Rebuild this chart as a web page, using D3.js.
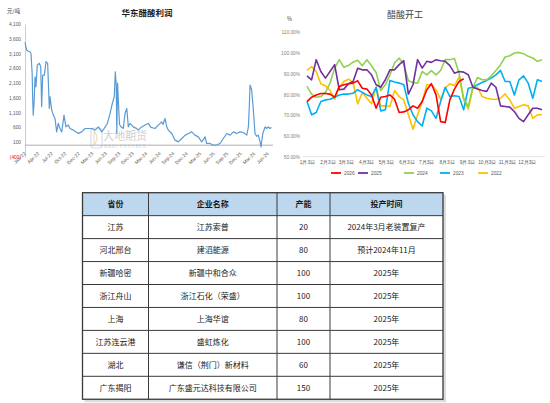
<!DOCTYPE html>
<html><head><meta charset="utf-8">
<script src="https://cdn.jsdelivr.net/npm/d3@7"></script>
<style>
body{margin:0;background:#fff;}
svg{display:block;font-family:"Noto Sans CJK SC","Noto Sans",sans-serif;}
</style>
</head><body>
<svg id="c" width="550" height="403"></svg>
<script>
// ---------- Left chart: 华东醋酸利润 (元/吨) ----------
const profitDates = ["2022-01-04","2022-01-15","2022-01-27","2022-02-06","2022-02-13","2022-02-21","2022-02-24","2022-02-28","2022-03-06","2022-03-12","2022-03-18","2022-03-27","2022-04-09","2022-04-19","2022-04-25","2022-05-02","2022-05-13","2022-05-24","2022-06-04","2022-06-15","2022-06-20","2022-07-01","2022-07-12","2022-07-23","2022-08-03","2022-08-14","2022-08-25","2022-09-06","2022-09-21","2022-10-04","2022-10-20","2022-10-31","2022-11-22","2022-12-10","2022-12-25","2023-01-17","2023-02-08","2023-03-02","2023-03-25","2023-04-16","2023-05-08","2023-05-30","2023-06-15","2023-07-07","2023-07-25","2023-08-09","2023-08-22","2023-08-29","2023-09-04","2023-09-08","2023-09-13","2023-09-19","2023-09-26","2023-10-06","2023-10-21","2023-11-02","2023-11-13","2023-11-24","2023-12-05","2023-12-27","2024-01-19","2024-01-29","2024-02-16","2024-03-14","2024-04-05","2024-04-23","2024-05-20","2024-06-11","2024-07-03","2024-07-12","2024-07-25","2024-08-06","2024-08-16","2024-09-08","2024-09-30","2024-10-22","2024-11-14","2024-12-07","2024-12-29","2025-01-19","2025-02-10","2025-03-04","2025-03-27","2025-04-18","2025-04-29","2025-05-21","2025-06-12","2025-07-05","2025-07-27","2025-08-18","2025-09-10","2025-10-02","2025-10-24","2025-11-15","2025-12-07","2025-12-29","2026-01-21","2026-02-01","2026-02-07","2026-02-12","2026-02-23","2026-03-06","2026-03-17","2026-03-29","2026-04-08","2026-04-20","2026-04-26","2026-05-08","2026-05-23","2026-06-03","2026-06-14","2026-06-25","2026-07-05"];
const profitValues = [3480,3220,3180,3160,3100,2400,1600,1017,1500,2315,1975,2710,2770,2655,1300,2370,2370,2825,2770,1245,1640,1190,1017,905,450,735,565,450,1017,620,680,565,510,450,400,450,565,565,565,510,620,450,560,735,1075,1410,1640,2485,2050,400,2100,1400,700,620,565,1075,1245,620,735,620,560,510,600,680,735,600,565,680,790,700,905,620,510,395,170,112,225,340,395,450,340,281,112,281,56,60,0,10,56,225,395,340,450,395,450,430,340,620,1300,2035,1865,1190,395,300,340,112,-56,395,620,565,620,565,600];
const profitTickDates = ["2022-01-04","2022-04-04","2022-07-03","2022-10-01","2022-12-30","2023-03-30","2023-06-28","2023-09-26","2023-12-25","2024-03-24","2024-06-22","2024-09-20","2024-12-19","2025-03-19","2025-06-17","2025-09-15","2025-12-14","2026-03-14","2026-06-12"];
const profitTickLabels = ["Jan-22","Apr-22","Jul-22","Oct-22","Dec-22","Mar-23","Jun-23","Sep-23","Dec-23","Mar-24","Jun-24","Sep-24","Dec-24","Mar-25","Jun-25","Sep-25","Dec-25","Mar-26","Jun-26"];
const profitYTicks = [-400,100,600,1100,1600,2100,2600,3100,3600,4100];

// ---------- Right chart: 醋酸开工 (%) ----------
const years = ["2026","2025","2024","2023","2022"];
const yearColors = ["#ff0000","#7030a0","#92d050","#00b0f0","#ffc000"];
const rate2026 = [76.6,78.7,79.8,80.5,80.5,80.2,78.7,83.9,84.7,85.2,85.5,86.6,83,82.6,79.8,73.4,78.7,79,79.8,77.7,71.3,71.6,72.6,74.5,73.4,76.6,82.3,85.2,79.8,66.9,66.5,77.4,82.6,86.3,87.6];
const rate2025 = [89,87.1,96.8,91.1,87.9,91.1,94.4,82.3,82.6,85.2,86.3,92.7,91.9,91.9,89.5,84.7,83.5,87.1,91.9,91.9,94.4,96.3,80.2,84.7,96.8,92.7,96,95.5,96.8,96.3,96,93.9,90.3,91.1,90.8,89.5,83.5,82.6,81.9,81.5,85.5,83.5,74.5,74.2,73.9,71.8,68.5,66.9,70.2,73.4,73.4,72.6];
const rate2024 = [83.9,80.2,78.7,79,81,85.5,92.7,96.8,93.1,94,95.6,96.5,93.9,96.8,93.9,90.6,81.9,84.7,89.5,95.2,97.6,94.4,86.6,85.8,85.5,91.1,89.5,91.5,89.5,91.6,96.8,96.8,97.4,90.3,78.2,74.2,83.5,88.2,87.1,87.1,89,91.6,94.4,98.1,98.7,100,100.3,99.7,98.4,97.6,96,96.8];
const rate2023 = [76.6,70.2,71.3,76.6,77.4,77.7,78.7,79.8,80.2,80.2,80.6,82.3,81,79.8,79,83.5,72.1,72.6,86.8,86,85.5,84.7,75.8,70.2,66.9,64.8,73.4,72.1,68.5,76.6,83.5,79,79.4,79,72.6,83,83.5,84.7,85.8,86.8,87.9,89.5,91.6,86.3,86.3,79.8,87.1,89,85.5,78.2,87.1,86.3];
const rate2022 = [91.6,93.5,91.1,85.2,84.2,81.9,77.7,83.5,86.3,87.4,85.8,75.5,81,78.2,75.5,83.5,74.5,74.5,74.2,81.9,79,77.4,70.2,63.2,70.2,76.6,84.7,84.7,82.3,77.7,83,85.2,84.2,88.4,77.4,72.9,83,83.5,79,78.2,77.7,77.7,78.2,80.3,77.4,73.4,74.2,75,74.5,68.5,70.2,70.2];
const rateTickWeeks = [0,4.43,8.43,12.86,17.14,21.57,25.86,30.29,34.71,39,43.43,47.71];
const rateTickLabels = ["1月3日","2月3日","3月3日","4月3日","5月3日","6月3日","7月3日","8月3日","9月3日","10月3日","11月3日","12月3日"];
const rateYTicks = [50,60,70,80,90,100,110];

// ---------- Table ----------
const tableHeader = ["省份","企业名称","产能","投产时间"];
const provinces = ["江苏","河北邢台","新疆哈密","浙江舟山","上海","江苏连云港","湖北","广东揭阳"];
const companies = ["江苏索普","建滔能源","新疆中和合众","浙江石化（荣盛）","上海华谊","盛虹炼化","谦信（荆门）新材料","广东盛元达科技有限公司"];
const capacities = ["20","80","100","100","80","100","60","150"];
const startTimes = ["2024年3月老装置复产","预计2024年11月","2025年","2025年","2025年","2025年","2025年","2025年"];

const svg = d3.select("#c");
const parse = d3.timeParse("%Y-%m-%d");

// ===== Left chart =====
{
  const L = svg.append("g");
  const x = d3.scaleTime().domain([parse("2022-01-04"), parse("2026-07-15")]).range([25, 273]);
  const y = d3.scaleLinear().domain([-400, 4100]).range([157, 24]);

  L.append("text").attr("x", 7).attr("y", 13).attr("font-size", 5.5).attr("fill", "#404040").text("元/吨");
  L.append("text").attr("x", 147).attr("y", 16).attr("text-anchor", "middle")
    .attr("font-size", 8.5).attr("font-weight", "bold").attr("fill", "#1a1a1a").text("华东醋酸利润");

  // watermark
  const W = L.append("g").attr("opacity", 0.55);
  W.append("rect").attr("x", 91).attr("y", 128).attr("width", 11).attr("height", 20).attr("rx", 3)
    .attr("fill", "none").attr("stroke", "#b8c4d6").attr("stroke-width", 1.2);
  W.append("path").attr("d", "M94,131 L94,145 M94,131 Q100,138 94,145").attr("fill", "none").attr("stroke", "#d8c9a0").attr("stroke-width", 1.2);
  W.append("text").attr("x", 103).attr("y", 140).attr("font-size", 11).attr("fill", "#a9a9a9").text("大地期货");
  W.append("text").attr("x", 104).attr("y", 148).attr("font-size", 4.6).attr("letter-spacing", 0.9).attr("fill", "#a9a9a9").text("DADI FUTURES");

  // y axis
  const ya = L.append("g").attr("transform", "translate(25,0)")
    .call(d3.axisLeft(y).tickValues(profitYTicks).tickSize(0).tickPadding(4)
      .tickFormat(d => d < 0 ? "(" + d3.format(",")(-d) + ")" : d3.format(",")(d)));
  ya.select(".domain").attr("stroke", "#bfbfbf").attr("stroke-width", 0.8);
  ya.selectAll("text").attr("font-size", 4.8).attr("fill", d => d < 0 ? "#ff0000" : "#595959")
    .attr("font-family", "Liberation Sans, Arial, sans-serif");

  // zero line
  L.append("line").attr("x1", 25).attr("x2", 273).attr("y1", y(0)).attr("y2", y(0))
    .attr("stroke", "#a6a6a6").attr("stroke-width", 0.9);

  // x axis labels
  const xa = L.append("g").attr("transform", "translate(0,152)")
    .call(d3.axisBottom(x).tickValues(profitTickDates.map(parse)).tickSize(0)
      .tickFormat((d, i) => profitTickLabels[i]));
  xa.select(".domain").remove();
  xa.selectAll("text").attr("font-size", 4.8).attr("fill", "#595959")
    .attr("font-family", "Liberation Sans, Arial, sans-serif")
    .attr("text-anchor", "end").attr("y", 0).attr("dy", "0.35em").attr("dx", "-0.2em")
    .attr("transform", "rotate(-45)");

  const pts = profitDates.map((d, i) => [parse(d), profitValues[i]]);
  L.append("path").datum(pts)
    .attr("d", d3.line().x(d => x(d[0])).y(d => y(d[1])))
    .attr("fill", "none").attr("stroke", "#5b9bd5").attr("stroke-width", 1.2).attr("stroke-linejoin", "round");
}

// ===== Right chart =====
{
  const R = svg.append("g");
  const x = d3.scaleLinear().domain([0, 51]).range([307, 542]);
  const y = d3.scaleLinear().domain([50, 110]).range([156.7, 32.3]);

  R.append("text").attr("x", 405).attr("y", 18).attr("text-anchor", "middle")
    .attr("font-size", 9).attr("fill", "#404040").text("醋酸开工");
  R.append("text").attr("x", 287).attr("y", 21).attr("font-size", 5.5).attr("fill", "#404040").text("%");

  const ya = R.append("g").attr("transform", "translate(302,0)")
    .call(d3.axisLeft(y).tickValues(rateYTicks).tickSize(0).tickPadding(2)
      .tickFormat(d => d3.format(".2f")(d) + "%"));
  ya.select(".domain").remove();
  ya.selectAll("text").attr("font-size", 4.8).attr("fill", "#7f7f7f")
    .attr("font-family", "Liberation Sans, Arial, sans-serif");

  const xa = R.append("g").attr("transform", "translate(0,156.7)")
    .call(d3.axisBottom(x).tickValues(rateTickWeeks).tickSize(0).tickPadding(4)
      .tickFormat((d, i) => rateTickLabels[i]));
  xa.select(".domain").attr("d", "M303,0H545").attr("stroke", "#d9d9d9").attr("stroke-width", 0.8);
  xa.selectAll("text").attr("font-size", 4.8).attr("fill", "#595959");

  const series = [rate2026, rate2025, rate2024, rate2023, rate2022];
  const line = d3.line().x((d, i) => x(i)).y(d => y(d));
  for (let k = series.length - 1; k >= 0; k--) {
    R.append("path").datum(series[k]).attr("d", line)
      .attr("fill", "none").attr("stroke", yearColors[k]).attr("stroke-width", 1.6)
      .attr("stroke-linejoin", "round");
  }

  const legendX = [331, 358, 404, 440, 478];
  years.forEach((yr, k) => {
    R.append("line").attr("x1", legendX[k]).attr("x2", legendX[k] + 10).attr("y1", 173).attr("y2", 173)
      .attr("stroke", yearColors[k]).attr("stroke-width", 1.8);
    R.append("text").attr("x", legendX[k] + 13).attr("y", 175).attr("font-size", 4.8)
      .attr("fill", "#595959").attr("font-family", "Liberation Sans, Arial, sans-serif").text(yr);
  });
}

// ===== Table =====
{
  const T = svg.append("g");
  const colEdges = [82.5, 148.5, 277, 330, 443];
  const rowTop = 192.7, rowH = 22.95;
  const nRows = provinces.length + 1;
  const rows = [tableHeader].concat(provinces.map((p, i) => [p, companies[i], capacities[i], startTimes[i]]));

  T.append("rect").attr("x", colEdges[0] + 2).attr("y", rowTop + 2)
    .attr("width", colEdges[4] - colEdges[0] + 1).attr("height", rowH * nRows + 1).attr("fill", "#dcdcdc");
  T.append("rect").attr("x", colEdges[0]).attr("y", rowTop)
    .attr("width", colEdges[4] - colEdges[0]).attr("height", rowH * nRows).attr("fill", "#fff");
  T.append("rect").attr("x", colEdges[0]).attr("y", rowTop)
    .attr("width", colEdges[4] - colEdges[0]).attr("height", rowH).attr("fill", "#bdd7ee");

  for (let r = 1; r < nRows; r++) {
    T.append("line").attr("x1", colEdges[0]).attr("x2", colEdges[4])
      .attr("y1", rowTop + r * rowH).attr("y2", rowTop + r * rowH)
      .attr("stroke", "#3a3a3a").attr("stroke-width", 1);
  }
  for (let c = 1; c < colEdges.length - 1; c++) {
    T.append("line").attr("x1", colEdges[c]).attr("x2", colEdges[c])
      .attr("y1", rowTop).attr("y2", rowTop + nRows * rowH)
      .attr("stroke", "#3a3a3a").attr("stroke-width", 1);
  }
  T.append("rect").attr("x", colEdges[0]).attr("y", rowTop)
    .attr("width", colEdges[4] - colEdges[0]).attr("height", rowH * nRows)
    .attr("fill", "none").attr("stroke", "#3a3a3a").attr("stroke-width", 1.3);

  rows.forEach((row, r) => {
    row.forEach((cell, c) => {
      T.append("text")
        .attr("x", (colEdges[c] + colEdges[c + 1]) / 2)
        .attr("y", rowTop + r * rowH + rowH / 2)
        .attr("dy", "0.36em").attr("text-anchor", "middle")
        .attr("font-size", 8).attr("font-weight", r === 0 ? "bold" : "normal")
        .attr("fill", "#1a1a1a").text(cell);
    });
  });
}
</script>
</body></html>
